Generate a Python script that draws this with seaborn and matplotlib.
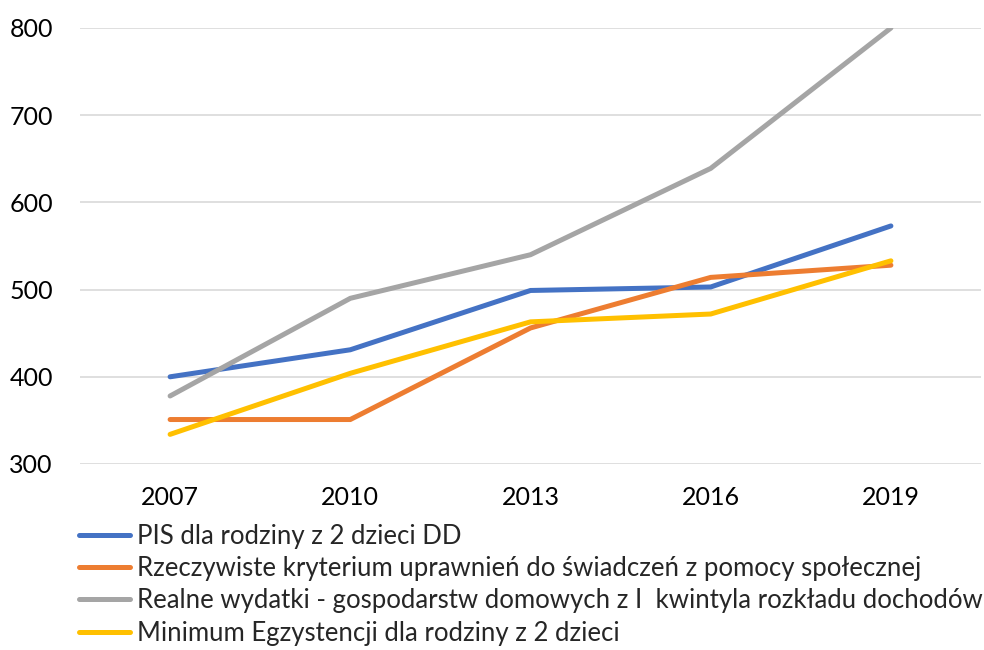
import matplotlib
matplotlib.use("Agg")
import matplotlib.pyplot as plt
import seaborn as sns
import pandas as pd

years = ["2007", "2010", "2013", "2016", "2019"]
series_names = [
    "PIS dla rodziny z 2 dzieci DD",
    "Rzeczywiste kryterium uprawnień do świadczeń z pomocy społecznej",
    "Realne wydatki - gospodarstw domowych z I  kwintyla rozkładu dochodów",
    "Minimum Egzystencji dla rodziny z 2 dzieci",
]
pis = [400, 431, 499, 503, 573]
kryterium = [351, 351, 456, 514, 528]
wydatki = [378, 490, 540, 639, 800]
minimum = [334, 404, 463, 472, 533]
colors = ["#4472C4", "#ED7D31", "#A5A5A5", "#FFC000"]
yticks = [300, 400, 500, 600, 700, 800]

rows = []
for name, vals in zip(series_names, [pis, kryterium, wydatki, minimum]):
    for y, v in zip(years, vals):
        rows.append({"rok": y, "wartosc": v, "seria": name})
df = pd.DataFrame(rows)

sns.set_theme(style="white")
plt.rcParams["font.family"] = ["Lato", "DejaVu Sans"]

W, H = 984, 650
fig = plt.figure(figsize=(W / 100, H / 100), dpi=100)
ax = fig.add_axes([80 / W, 1 - 464 / H, (981 - 80) / W, (464 - 28) / H])

sns.lineplot(data=df, x="rok", y="wartosc", hue="seria", palette=colors,
             hue_order=series_names, sort=False, linewidth=3.6, ax=ax,
             legend=False)
for ln in ax.get_lines():
    ln.set_solid_capstyle("round")
    ln.set_solid_joinstyle("miter")

ax.set_xlim(-0.5, len(years) - 0.5)
ax.set_ylim(300, 800)
ax.set_yticks(yticks)
ax.set_xlabel("")
ax.set_ylabel("")
ax.grid(axis="y", color="#D9D9D9", linewidth=1.2)
ax.grid(axis="x", visible=False)
ax.set_axisbelow(True)
for s in ax.spines.values():
    s.set_visible(False)
tfs = 18
lfs = 18.5
ax.tick_params(axis="both", length=0, labelsize=tfs, colors="black")
ax.tick_params(axis="y", pad=19.5)
ax.tick_params(axis="x", pad=16)

from matplotlib.lines import Line2D
handles = [Line2D([0], [0], color=c, linewidth=3.6, solid_capstyle="round") for c in colors]
leg = fig.legend(handles, series_names, loc="upper left",
                 bbox_to_anchor=(79 / W, 1 - 524 / H), frameon=False,
                 fontsize=lfs, handlelength=2.0, handletextpad=0.27,
                 labelspacing=0.28, borderpad=0, borderaxespad=0)

fig.savefig("out.png", dpi=100, facecolor="white")
